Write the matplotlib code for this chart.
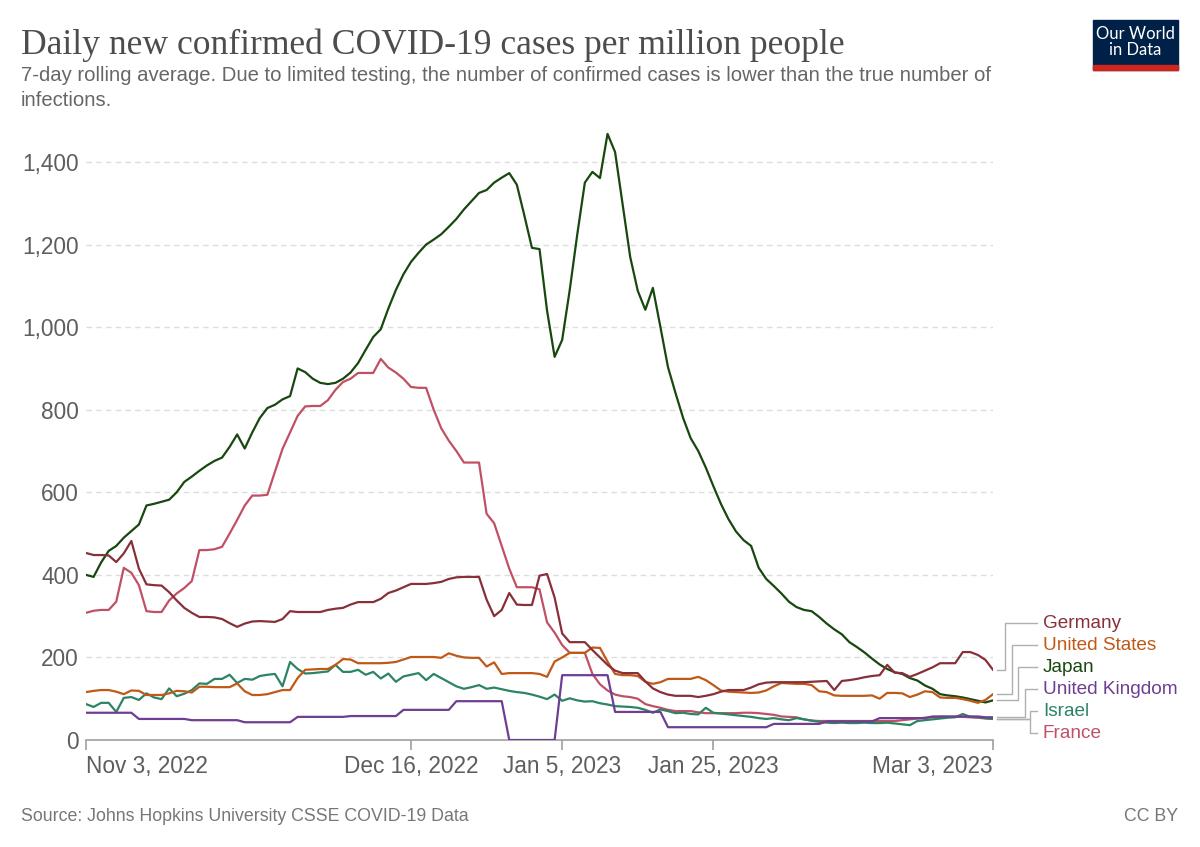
import matplotlib
matplotlib.use("Agg")
import matplotlib.pyplot as plt
from matplotlib.lines import Line2D
from matplotlib.patches import Rectangle
import matplotlib.dates as mdates
import numpy as np
import pandas as pd

plt.rcParams['font.family'] = ['Liberation Sans', 'DejaVu Sans']

# daily dates, Nov 3 2022 .. Mar 3 2023
dates = pd.date_range("2022-11-03", "2023-03-03", freq="D")

japan = [400, 395, 430, 458, 470, 490, 506, 522, 568, 572,
         577, 582, 600, 625, 638, 652, 665, 676, 684, 710,
         740, 706, 745, 780, 804, 812, 825, 833, 900, 891,
         875, 865, 862, 865, 875, 890, 913, 945, 976, 995,
         1045, 1090, 1128, 1158, 1180, 1200, 1212, 1225, 1243, 1262,
         1285, 1305, 1325, 1332, 1350, 1362, 1373, 1345, 1270, 1192,
         1189, 1040, 928, 969, 1090, 1225, 1350, 1376, 1361, 1468,
         1424, 1297, 1170, 1088, 1042, 1095, 1000, 903, 840, 780,
         731, 700, 660, 615, 572, 535, 505, 484, 470, 417,
         390, 373, 355, 335, 322, 315, 312, 298, 282, 268,
         256, 237, 225, 212, 197, 183, 172, 164, 160, 150,
         144, 132, 124, 111, 108, 106, 103, 99, 95, 91,
         96]

france = [308, 313, 315, 315, 335, 417, 405, 375, 312, 310,
          310, 338, 355, 368, 385, 460, 460, 462, 468, 500,
          533, 568, 592, 592, 594, 650, 705, 745, 785, 808,
          809, 809, 823, 848, 867, 875, 889, 889, 889, 923,
          902, 890, 875, 855, 853, 853, 800, 755, 725, 700,
          672, 672, 672, 548, 525, 470, 415, 370, 370, 370,
          365, 285, 260, 230, 211, 211, 211, 160, 135, 120,
          110, 106, 104, 100, 87, 82, 78, 73, 70, 70,
          70, 67, 65, 65, 65, 65, 65, 66, 66, 65,
          63, 61, 57, 56, 55, 50, 47, 46, 46, 46,
          46, 46, 46, 46, 46, 46, 46, 46, 48, 50,
          52, 54, 55, 56, 56, 56, 56, 55, 54, 52,
          51]

germany = [453, 448, 448, 447, 431, 452, 482, 415, 377, 375,
           374, 358, 338, 320, 308, 298, 298, 297, 293, 283,
           274, 282, 287, 288, 287, 286, 293, 312, 310, 310,
           310, 310, 315, 318, 320, 328, 334, 334, 334, 342,
           356, 362, 370, 378, 378, 378, 380, 383, 390, 394,
           395, 395, 395, 340, 300, 315, 356, 328, 327, 327,
           398, 402, 345, 258, 237, 237, 237, 218, 200, 182,
           168, 162, 162, 162, 142, 125, 116, 110, 107, 107,
           107, 104, 107, 111, 117, 121, 121, 121, 127, 135,
           139, 140, 140, 140, 140, 140, 141, 142, 143, 121,
           143, 145, 148, 152, 155, 157, 182, 163, 162, 153,
           160, 168, 176, 186, 186, 186, 213, 213, 206, 194,
           170]

united_states = [116, 119, 121, 121, 117, 111, 120, 119, 109, 109,
                 109, 113, 119, 118, 115, 129, 129, 128, 128, 128,
                 137, 118, 109, 109, 111, 116, 121, 121, 150, 170,
                 171, 172, 172, 182, 196, 195, 186, 186, 186, 186,
                 187, 189, 195, 201, 201, 201, 201, 199, 210, 204,
                 200, 199, 199, 178, 188, 160, 162, 162, 162, 162,
                 160, 153, 190, 200, 211, 211, 211, 224, 223, 190,
                 160, 157, 157, 155, 141, 136, 140, 148, 148, 148,
                 148, 153, 145, 133, 120, 117, 116, 115, 114, 115,
                 120, 130, 138, 137, 136, 136, 133, 118, 116, 108,
                 107, 107, 107, 107, 108, 100, 114, 114, 113, 104,
                 110, 118, 116, 103, 102, 102, 99, 95, 90, 97,
                 111]

israel = [87, 80, 90, 90, 68, 102, 104, 97, 113, 103,
          99, 125, 106, 112, 121, 137, 136, 148, 148, 158,
          138, 148, 146, 155, 158, 160, 130, 189, 172, 161,
          162, 164, 166, 182, 165, 165, 170, 158, 165, 149,
          161, 141, 154, 158, 162, 145, 160, 150, 140, 130,
          124, 128, 133, 124, 127, 123, 119, 116, 114, 110,
          105, 99, 110, 95, 101, 96, 93, 94, 89, 86,
          82, 81, 80, 78, 73, 66, 74, 70, 65, 66,
          63, 62, 78, 66, 64, 62, 60, 58, 56, 53,
          51, 53, 50, 48, 53, 50, 47, 44, 42, 41,
          42, 41, 41, 42, 41, 41, 42, 40, 38, 36,
          46, 48, 50, 52, 54, 55, 63, 56, 55, 53,
          51]

united_kingdom = ([66] * 7 + [51] * 7 + [48] * 7 + [43] * 7 + [56] * 7
                  + [58] * 7 + [73] * 7 + [94] * 7 + [0] * 7 + [157] * 7
                  + [68] * 7 + [31] * 14 + [39] * 7 + [45] * 7 + [53] * 7
                  + [57] * 7 + [55] * 2)

series = [
    ("Germany", germany, "#883039"),
    ("United States", united_states, "#C05917"),
    ("Japan", japan, "#18470F"),
    ("United Kingdom", united_kingdom, "#6D3E91"),
    ("Israel", israel, "#2C8465"),
    ("France", france, "#C15065"),
]
# label rows (pixel y) and elbow x for the connector lines
label_y = [623, 645, 667, 689, 711, 733]
elbow_x = [1005, 1012, 1018, 1025, 1030, 1030]

tick_dates = pd.to_datetime(["2022-11-03", "2022-12-16", "2023-01-05",
                             "2023-01-25", "2023-03-03"])
tick_labels = ["Nov 3, 2022", "Dec 16, 2022", "Jan 5, 2023",
               "Jan 25, 2023", "Mar 3, 2023"]
y_ticks = [0, 200, 400, 600, 800, 1000, 1200, 1400]

W, H = 1200, 847
fig = plt.figure(figsize=(W / 100, H / 100), dpi=100)


def fx(x):
    return x / W


def fy(y):
    return 1 - y / H


ax = fig.add_axes([fx(86), fy(740), fx(993) - fx(86), fy(131) - fy(740)])

for name, vals, col in series[::-1]:
    ax.plot(dates, vals, color=col, lw=1.6, solid_joinstyle='round', zorder=3)

ax.set_xlim(dates[0], dates[-1])
ax.set_ylim(0, 1475)

for s in ['top', 'right', 'left']:
    ax.spines[s].set_visible(False)
ax.spines['bottom'].set_color('#a0a0a0')
ax.spines['bottom'].set_linewidth(1.2)

ax.set_yticks(y_ticks)
ax.set_yticklabels([f"{v:,}" for v in y_ticks])
ax.tick_params(axis='y', length=0, pad=5, labelsize=16.3, labelcolor='#5e5e5e')
for v in y_ticks[1:]:
    ax.axhline(v, color='#dddddd', lw=1, ls=(0, (4, 3)), zorder=1)

ax.set_xticks(tick_dates)
ax.set_xticklabels(tick_labels)
ax.tick_params(axis='x', length=7, width=1.2, color='#a0a0a0', pad=4,
               labelsize=16.3, labelcolor='#5e5e5e')
labs = ax.get_xticklabels()
labs[0].set_ha('left')
labs[-1].set_ha('right')

# labels and connectors on the right
for (name, vals, col), ly, ex in zip(series, label_y, elbow_x):
    px, py = ax.transData.transform((mdates.date2num(dates[-1]), vals[-1]))
    py = H - py
    xs = [997, ex, ex, 1037]
    ys = [py, py, ly, ly]
    fig.add_artist(Line2D([fx(x) for x in xs], [fy(y) for y in ys],
                          color='#b0b0b0', lw=1))
    fig.text(fx(1043), fy(ly), name, color=col, fontsize=13.7,
             ha='left', va='center')

# title and subtitle
fig.text(fx(21), fy(54), "Daily new confirmed COVID-19 cases per million people",
         family=['Liberation Serif'], fontsize=25.6, color='#4d4d4d',
         ha='left', va='baseline')
fig.text(fx(21), fy(81), "7-day rolling average. Due to limited testing, the number "
         "of confirmed cases is lower than the true number of",
         fontsize=14.6, color='#666666', ha='left', va='baseline')
fig.text(fx(21), fy(106), "infections.", fontsize=14.6, color='#666666',
         ha='left', va='baseline')

# logo
fig.add_artist(Rectangle((fx(1093), fy(70)), fx(1178) - fx(1093), fy(20) - fy(70),
                         color='#002147', transform=fig.transFigure))
fig.add_artist(Rectangle((fx(1093), fy(70)), fx(1178) - fx(1093), fy(65) - fy(70),
                         color='#ce261e', transform=fig.transFigure))
fig.text(fx(1135.5), fy(42), "Our World\nin Data", color='white', fontsize=12,
         ha='center', va='center', linespacing=1.0, family=['Lato', 'DejaVu Sans'])

# footer
fig.text(fx(21), fy(816), "Source: Johns Hopkins University CSSE COVID-19 Data",
         fontsize=12.8, color='#777777', ha='left', va='center')
fig.text(fx(1178), fy(816), "CC BY", fontsize=12.8, color='#777777',
         ha='right', va='center')

fig.savefig("out.png", dpi=100)
